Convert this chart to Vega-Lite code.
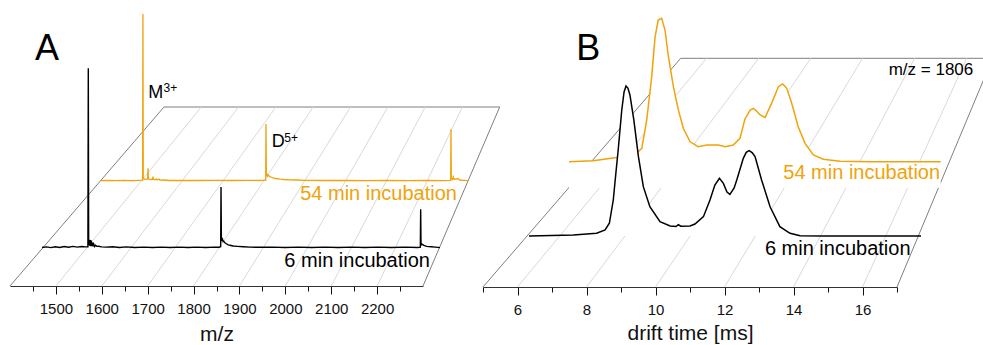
{
  "$schema": "https://vega.github.io/schema/vega-lite/v6.json",
  "width": 983,
  "height": 345,
  "autosize": {"type": "none"},
  "padding": 0,
  "background": "white",
  "config": {"view": {"stroke": null}},
  "datasets": {
    "floorA": [
      {"kind": "edge", "x0": 1400, "x1": 1735.6, "d0": 0, "d1": 1},
      {"kind": "edge", "x0": 1735.6, "x1": 2467.1, "d0": 1, "d1": 1},
      {"kind": "edge", "x0": 2300, "x1": 2467.1, "d0": 0, "d1": 1},
      {"kind": "grid", "x0": 1500, "x1": 1816.9, "d0": 0, "d1": 1},
      {"kind": "grid", "x0": 1600, "x1": 1898.2, "d0": 0, "d1": 1},
      {"kind": "grid", "x0": 1700, "x1": 1979.4, "d0": 0, "d1": 1},
      {"kind": "grid", "x0": 1800, "x1": 2060.7, "d0": 0, "d1": 1},
      {"kind": "grid", "x0": 1900, "x1": 2142.0, "d0": 0, "d1": 1},
      {"kind": "grid", "x0": 2000, "x1": 2223.3, "d0": 0, "d1": 1},
      {"kind": "grid", "x0": 2100, "x1": 2304.6, "d0": 0, "d1": 1},
      {"kind": "grid", "x0": 2200, "x1": 2385.8, "d0": 0, "d1": 1}
    ],
    "floorB": [
      {"kind": "edge", "x0": 5, "x1": 10.73, "d0": 0, "d1": 1},
      {"kind": "edge", "x0": 10.73, "x1": 19.77, "d0": 1, "d1": 1},
      {"kind": "edge", "x0": 17, "x1": 19.77, "d0": 0, "d1": 1},
      {"kind": "grid", "x0": 6, "x1": 11.48, "d0": 0, "d1": 1},
      {"kind": "grid", "x0": 8, "x1": 12.99, "d0": 0, "d1": 1},
      {"kind": "grid", "x0": 10, "x1": 14.50, "d0": 0, "d1": 1},
      {"kind": "grid", "x0": 12, "x1": 16.00, "d0": 0, "d1": 1},
      {"kind": "grid", "x0": 14, "x1": 17.51, "d0": 0, "d1": 1},
      {"kind": "grid", "x0": 16, "x1": 19.02, "d0": 0, "d1": 1}
    ],
    "specA54": [
      {"mz": 1400, "i": 0.2}, {"mz": 1420, "i": 0.4}, {"mz": 1440, "i": 0.2}, {"mz": 1460, "i": 0.4},
      {"mz": 1480, "i": 0.2}, {"mz": 1495, "i": 0.4}, {"mz": 1504.2, "i": 0.5}, {"mz": 1505, "i": 100},
      {"mz": 1505.8, "i": 1.5}, {"mz": 1510, "i": 1.0}, {"mz": 1516.5, "i": 1.2}, {"mz": 1517.5, "i": 7.6},
      {"mz": 1518.5, "i": 1.3}, {"mz": 1523, "i": 0.9}, {"mz": 1528.5, "i": 1.0}, {"mz": 1529.5, "i": 2.6},
      {"mz": 1530.5, "i": 1.0}, {"mz": 1535, "i": 0.7}, {"mz": 1538.5, "i": 1.2}, {"mz": 1540, "i": 0.6},
      {"mz": 1544.5, "i": 1.1}, {"mz": 1546, "i": 0.5}, {"mz": 1555, "i": 0.6}, {"mz": 1570, "i": 0.3},
      {"mz": 1600, "i": 0.4}, {"mz": 1640, "i": 0.3}, {"mz": 1680, "i": 0.4}, {"mz": 1720, "i": 0.3},
      {"mz": 1760, "i": 0.4}, {"mz": 1790, "i": 0.3}, {"mz": 1805.2, "i": 0.5}, {"mz": 1806, "i": 34.1},
      {"mz": 1806.8, "i": 3.0}, {"mz": 1808, "i": 4.6}, {"mz": 1810, "i": 2.8}, {"mz": 1812, "i": 3.5},
      {"mz": 1815, "i": 2.6}, {"mz": 1818, "i": 2.4}, {"mz": 1823, "i": 1.9}, {"mz": 1830, "i": 1.5},
      {"mz": 1840, "i": 1.1}, {"mz": 1850, "i": 0.9}, {"mz": 1865, "i": 0.7}, {"mz": 1880, "i": 0.6},
      {"mz": 1900, "i": 0.4}, {"mz": 1950, "i": 0.3}, {"mz": 2000, "i": 0.4}, {"mz": 2050, "i": 0.2},
      {"mz": 2100, "i": 0.4}, {"mz": 2150, "i": 0.2}, {"mz": 2200, "i": 0.3}, {"mz": 2240, "i": 0.2},
      {"mz": 2257.6, "i": 0.4}, {"mz": 2258.4, "i": 31}, {"mz": 2259.2, "i": 1.5}, {"mz": 2262, "i": 1.0},
      {"mz": 2264, "i": 2.6}, {"mz": 2266, "i": 0.9}, {"mz": 2270, "i": 1.2}, {"mz": 2276, "i": 1.4},
      {"mz": 2280, "i": 0.6}, {"mz": 2290, "i": 0.4}, {"mz": 2300, "i": 0.2}
    ],
    "specA6": [
      {"mz": 1400, "i": 0.3}, {"mz": 1410, "i": 0.6}, {"mz": 1420, "i": 0.2}, {"mz": 1430, "i": 0.7},
      {"mz": 1440, "i": 0.3}, {"mz": 1450, "i": 0.8}, {"mz": 1460, "i": 0.4}, {"mz": 1470, "i": 0.9},
      {"mz": 1480, "i": 0.5}, {"mz": 1490, "i": 0.8}, {"mz": 1498, "i": 0.6}, {"mz": 1503.8, "i": 0.7},
      {"mz": 1504.7, "i": 100}, {"mz": 1505.5, "i": 4.5}, {"mz": 1506.5, "i": 1.5}, {"mz": 1507.5, "i": 4.6},
      {"mz": 1508.5, "i": 1.2}, {"mz": 1509.5, "i": 4.4}, {"mz": 1510.5, "i": 1.0}, {"mz": 1511.5, "i": 4.1},
      {"mz": 1512.5, "i": 1.0}, {"mz": 1514, "i": 3.0}, {"mz": 1515.5, "i": 0.9}, {"mz": 1517, "i": 2.2},
      {"mz": 1519, "i": 0.8}, {"mz": 1521, "i": 1.5}, {"mz": 1524, "i": 0.9}, {"mz": 1528, "i": 1.0},
      {"mz": 1535, "i": 0.6}, {"mz": 1545, "i": 0.5}, {"mz": 1560, "i": 0.7}, {"mz": 1575, "i": 0.3},
      {"mz": 1590, "i": 0.6}, {"mz": 1610, "i": 0.3}, {"mz": 1630, "i": 0.5}, {"mz": 1650, "i": 0.3},
      {"mz": 1670, "i": 0.5}, {"mz": 1690, "i": 0.3}, {"mz": 1710, "i": 0.5}, {"mz": 1730, "i": 0.3},
      {"mz": 1750, "i": 0.5}, {"mz": 1770, "i": 0.3}, {"mz": 1790, "i": 0.5}, {"mz": 1800, "i": 0.4},
      {"mz": 1804, "i": 0.7}, {"mz": 1804.8, "i": 34}, {"mz": 1805.6, "i": 6}, {"mz": 1806.5, "i": 4.5},
      {"mz": 1808, "i": 5.0}, {"mz": 1809.5, "i": 3.6}, {"mz": 1811, "i": 3.8}, {"mz": 1813, "i": 3.0},
      {"mz": 1816, "i": 2.5}, {"mz": 1820, "i": 1.9}, {"mz": 1825, "i": 1.5}, {"mz": 1832, "i": 1.1},
      {"mz": 1842, "i": 0.9}, {"mz": 1855, "i": 0.7}, {"mz": 1870, "i": 0.5}, {"mz": 1890, "i": 0.4},
      {"mz": 1920, "i": 0.5}, {"mz": 1950, "i": 0.3}, {"mz": 1980, "i": 0.5}, {"mz": 2010, "i": 0.3},
      {"mz": 2040, "i": 0.5}, {"mz": 2070, "i": 0.3}, {"mz": 2100, "i": 0.5}, {"mz": 2130, "i": 0.3},
      {"mz": 2160, "i": 0.5}, {"mz": 2190, "i": 0.3}, {"mz": 2220, "i": 0.5}, {"mz": 2250, "i": 0.3},
      {"mz": 2255.5, "i": 0.5}, {"mz": 2256.3, "i": 21.5}, {"mz": 2257, "i": 3.0}, {"mz": 2258.5, "i": 1.8},
      {"mz": 2260.5, "i": 2.0}, {"mz": 2262.5, "i": 1.6}, {"mz": 2265, "i": 1.3}, {"mz": 2270, "i": 0.9},
      {"mz": 2280, "i": 0.7}, {"mz": 2290, "i": 0.5}, {"mz": 2300, "i": 0.2}
    ],
    "dtB54": [
      {"t": 5.00, "i": 0}, {"t": 5.78, "i": 0.7}, {"t": 6.54, "i": 2.9}, {"t": 6.90, "i": 3.7},
      {"t": 7.16, "i": 5.4}, {"t": 7.35, "i": 9.3}, {"t": 7.51, "i": 29.1}, {"t": 7.67, "i": 59.3},
      {"t": 7.78, "i": 87.2}, {"t": 7.88, "i": 98.8}, {"t": 7.99, "i": 100}, {"t": 8.10, "i": 91.8},
      {"t": 8.21, "i": 73.2}, {"t": 8.37, "i": 52.3}, {"t": 8.53, "i": 36.1}, {"t": 8.69, "i": 23.3},
      {"t": 8.91, "i": 13.9}, {"t": 9.17, "i": 10.5}, {"t": 9.45, "i": 11.6}, {"t": 9.82, "i": 11.6},
      {"t": 10.04, "i": 10.5}, {"t": 10.30, "i": 11.6}, {"t": 10.52, "i": 16.3}, {"t": 10.68, "i": 29.8},
      {"t": 10.85, "i": 36}, {"t": 10.95, "i": 37.2}, {"t": 11.05, "i": 35.5}, {"t": 11.17, "i": 32.6},
      {"t": 11.33, "i": 30.8}, {"t": 11.54, "i": 40.7}, {"t": 11.76, "i": 52.3}, {"t": 11.90, "i": 54.2},
      {"t": 12.03, "i": 51.2}, {"t": 12.19, "i": 40.7}, {"t": 12.40, "i": 24.4}, {"t": 12.62, "i": 12.8},
      {"t": 12.89, "i": 4.7}, {"t": 13.21, "i": 1.7}, {"t": 13.75, "i": 0.3}, {"t": 14.72, "i": 0},
      {"t": 17.00, "i": 0}
    ],
    "dtB6": [
      {"t": 5.00, "i": 0}, {"t": 6.36, "i": 0.7}, {"t": 7.07, "i": 1.8}, {"t": 7.33, "i": 4.0},
      {"t": 7.46, "i": 8.5}, {"t": 7.58, "i": 24}, {"t": 7.66, "i": 42}, {"t": 7.73, "i": 57.3},
      {"t": 7.84, "i": 84}, {"t": 7.91, "i": 96}, {"t": 7.97, "i": 100}, {"t": 8.03, "i": 98.5},
      {"t": 8.09, "i": 94}, {"t": 8.21, "i": 77.3}, {"t": 8.35, "i": 52.9}, {"t": 8.50, "i": 32.9},
      {"t": 8.70, "i": 19.5}, {"t": 9.01, "i": 9.5}, {"t": 9.32, "i": 6.7}, {"t": 9.50, "i": 6.3},
      {"t": 9.57, "i": 7.5}, {"t": 9.65, "i": 6.5}, {"t": 9.93, "i": 6.7}, {"t": 10.08, "i": 8},
      {"t": 10.34, "i": 12.9}, {"t": 10.54, "i": 24}, {"t": 10.69, "i": 34}, {"t": 10.83, "i": 38.5},
      {"t": 10.95, "i": 35.1}, {"t": 11.06, "i": 29.3}, {"t": 11.15, "i": 27.8}, {"t": 11.28, "i": 32},
      {"t": 11.36, "i": 37.3}, {"t": 11.56, "i": 51.8}, {"t": 11.65, "i": 55.8}, {"t": 11.74, "i": 56.9},
      {"t": 11.83, "i": 55.6}, {"t": 11.92, "i": 52.9}, {"t": 12.12, "i": 37.3}, {"t": 12.38, "i": 19.5},
      {"t": 12.68, "i": 6.2}, {"t": 12.99, "i": 1.8}, {"t": 13.30, "i": 0.2}, {"t": 14.01, "i": 0},
      {"t": 17.00, "i": 0}
    ]
  },
  "layer": [
    {
      "data": {"name": "floorA"},
      "mark": {"type": "rule", "strokeWidth": 1},
      "encoding": {
        "x": {"field": "x0", "type": "quantitative",
          "scale": {"domain": [1400, 2300], "range": [10, 423], "nice": false, "zero": false},
          "axis": {"orient": "bottom", "offset": -59,
            "values": [1450, 1500, 1550, 1600, 1650, 1700, 1750, 1800, 1850, 1900, 1950, 2000, 2050, 2100, 2150, 2200, 2250],
            "format": "d", "labelExpr": "datum.value % 100 === 0 ? datum.label : ''",
            "tickSize": {"condition": {"test": "datum.value % 100 === 0", "value": 8}, "value": 5},
            "tickColor": "#111", "domainColor": "#333", "grid": false, "labelOverlap": false, "labelFlush": false,
            "labelFont": "Liberation Sans", "labelFontSize": 15, "labelColor": "#111", "labelPadding": 7,
            "title": "m/z", "titleFont": "Liberation Sans", "titleFontSize": 21, "titleFontWeight": "normal",
            "titleColor": "#111", "titlePadding": 7}},
        "x2": {"field": "x1"},
        "y": {"field": "d0", "type": "quantitative",
          "scale": {"domain": [0, 1], "range": [286, 107], "nice": false, "zero": false}, "axis": null},
        "y2": {"field": "d1"},
        "color": {"field": "kind", "type": "nominal",
          "scale": {"domain": ["edge", "grid"], "range": ["#7f7f7f", "#d9d9d9"]}, "legend": null}
      }
    },
    {
      "data": {"name": "floorB"},
      "mark": {"type": "rule", "strokeWidth": 1},
      "encoding": {
        "x": {"field": "x0", "type": "quantitative",
          "scale": {"domain": [5, 17], "range": [483, 897], "nice": false, "zero": false},
          "axis": {"orient": "bottom", "offset": -58,
            "values": [5, 6, 7, 8, 9, 10, 11, 12, 13, 14, 15, 16, 17],
            "format": "d", "labelExpr": "datum.value % 2 === 0 ? datum.label : ''",
            "tickSize": {"condition": {"test": "datum.value % 2 === 0", "value": 8}, "value": 5},
            "tickColor": "#111", "domainColor": "#333", "grid": false, "labelOverlap": false, "labelFlush": false,
            "labelFont": "Liberation Sans", "labelFontSize": 15, "labelColor": "#111", "labelPadding": 7,
            "title": "drift time [ms]", "titleFont": "Liberation Sans", "titleFontSize": 21, "titleFontWeight": "normal",
            "titleColor": "#111", "titlePadding": 5}},
        "x2": {"field": "x1"},
        "y": {"field": "d0", "type": "quantitative",
          "scale": {"domain": [0, 1], "range": [287, 58.3], "nice": false, "zero": false}, "axis": null},
        "y2": {"field": "d1"},
        "color": {"field": "kind", "type": "nominal",
          "scale": {"domain": ["edge", "grid"], "range": ["#7f7f7f", "#d9d9d9"]}, "legend": null}
      }
    },
    {
      "data": {"name": "specA54"},
      "mark": {"type": "line", "color": "#F0A30A", "strokeWidth": 1.3},
      "encoding": {
        "x": {"field": "mz", "type": "quantitative", "scale": {"domain": [1400, 2300], "range": [100, 468], "nice": false, "zero": false}, "axis": null},
        "y": {"field": "i", "type": "quantitative", "scale": {"domain": [0, 100], "range": [181, 14], "nice": false, "zero": false}, "axis": null}
      }
    },
    {
      "data": {"name": "specA6"},
      "mark": {"type": "line", "color": "#000000", "strokeWidth": 1.4},
      "encoding": {
        "x": {"field": "mz", "type": "quantitative", "scale": {"domain": [1400, 2300], "range": [42, 440], "nice": false, "zero": false}, "axis": null},
        "y": {"field": "i", "type": "quantitative", "scale": {"domain": [0, 100], "range": [248, 68.3], "nice": false, "zero": false}, "axis": null}
      }
    },
    {
      "data": {"name": "dtB54"},
      "mark": {"type": "area", "color": "white", "opacity": 1},
      "encoding": {
        "x": {"field": "t", "type": "quantitative", "scale": {"domain": [5, 17], "range": [569, 940.7], "nice": false, "zero": false}, "axis": null},
        "y": {"field": "i", "type": "quantitative", "scale": {"domain": [0, 100], "range": [161.7, 18.3], "nice": false, "zero": false}, "axis": null},
        "y2": {"datum": -18.3}
      }
    },
    {
      "data": {"name": "dtB54"},
      "mark": {"type": "line", "color": "#F0A30A", "strokeWidth": 1.5},
      "encoding": {
        "x": {"field": "t", "type": "quantitative", "scale": {"domain": [5, 17], "range": [569, 940.7], "nice": false, "zero": false}, "axis": null},
        "y": {"field": "i", "type": "quantitative", "scale": {"domain": [0, 100], "range": [161.7, 18.3], "nice": false, "zero": false}, "axis": null}
      }
    },
    {
      "data": {"name": "dtB6"},
      "mark": {"type": "area", "color": "white", "opacity": 1},
      "encoding": {
        "x": {"field": "t", "type": "quantitative", "scale": {"domain": [5, 17], "range": [529, 921], "nice": false, "zero": false}, "axis": null},
        "y": {"field": "i", "type": "quantitative", "scale": {"domain": [0, 100], "range": [236, 86], "nice": false, "zero": false}, "axis": null},
        "y2": {"datum": 0}
      }
    },
    {
      "data": {"name": "dtB6"},
      "mark": {"type": "line", "color": "#000000", "strokeWidth": 1.5},
      "encoding": {
        "x": {"field": "t", "type": "quantitative", "scale": {"domain": [5, 17], "range": [529, 921], "nice": false, "zero": false}, "axis": null},
        "y": {"field": "i", "type": "quantitative", "scale": {"domain": [0, 100], "range": [236, 86], "nice": false, "zero": false}, "axis": null}
      }
    },
    {
      "data": {"values": [{"label": "A", "x": 1454.5, "d": 1.263}]},
      "mark": {"type": "text", "align": "left", "baseline": "alphabetic", "font": "Liberation Sans", "fontSize": 36, "color": "#000"},
      "encoding": {
        "text": {"field": "label"},
        "x": {"field": "x", "type": "quantitative", "scale": {"domain": [1400, 2300], "range": [10, 423], "nice": false, "zero": false}, "axis": null},
        "y": {"field": "d", "type": "quantitative", "scale": {"domain": [0, 1], "range": [286, 107], "nice": false, "zero": false}, "axis": null}
      }
    },
    {
      "data": {"values": [{"label": "B", "x": 7.70, "d": 0.9926}]},
      "mark": {"type": "text", "align": "left", "baseline": "alphabetic", "font": "Liberation Sans", "fontSize": 36, "color": "#000"},
      "encoding": {
        "text": {"field": "label"},
        "x": {"field": "x", "type": "quantitative", "scale": {"domain": [5, 17], "range": [483, 897], "nice": false, "zero": false}, "axis": null},
        "y": {"field": "d", "type": "quantitative", "scale": {"domain": [0, 1], "range": [287, 58.3], "nice": false, "zero": false}, "axis": null}
      }
    },
    {
      "data": {"values": [{"label": "m/z = 1806", "x": 19.21, "d": 0.927}]},
      "mark": {"type": "text", "align": "right", "baseline": "alphabetic", "font": "Liberation Sans", "fontSize": 17, "color": "#000"},
      "encoding": {
        "text": {"field": "label"},
        "x": {"field": "x", "type": "quantitative", "scale": {"domain": [5, 17], "range": [483, 897], "nice": false, "zero": false}, "axis": null},
        "y": {"field": "d", "type": "quantitative", "scale": {"domain": [0, 1], "range": [287, 58.3], "nice": false, "zero": false}, "axis": null}
      }
    },
    {
      "data": {"values": [{"label": "54 min incubation", "x": 2273, "i": -11.4}]},
      "mark": {"type": "text", "align": "right", "baseline": "alphabetic", "font": "Liberation Sans", "fontSize": 20, "color": "#F0A30A"},
      "encoding": {
        "text": {"field": "label"},
        "x": {"field": "x", "type": "quantitative", "scale": {"domain": [1400, 2300], "range": [100, 468], "nice": false, "zero": false}, "axis": null},
        "y": {"field": "i", "type": "quantitative", "scale": {"domain": [0, 100], "range": [181, 14], "nice": false, "zero": false}, "axis": null}
      }
    },
    {
      "data": {"values": [{"label": "M", "x": 1518, "i": 49.7}, {"label": "D", "x": 1819.9, "i": 20.2}]},
      "mark": {"type": "text", "align": "left", "baseline": "alphabetic", "font": "Liberation Sans", "fontSize": 18, "color": "#000"},
      "encoding": {
        "text": {"field": "label"},
        "x": {"field": "x", "type": "quantitative", "scale": {"domain": [1400, 2300], "range": [100, 468], "nice": false, "zero": false}, "axis": null},
        "y": {"field": "i", "type": "quantitative", "scale": {"domain": [0, 100], "range": [181, 14], "nice": false, "zero": false}, "axis": null}
      }
    },
    {
      "data": {"values": [{"label": "3+", "x": 1555.3, "i": 53.3}, {"label": "5+", "x": 1850.7, "i": 23.5}]},
      "mark": {"type": "text", "align": "left", "baseline": "alphabetic", "font": "Liberation Sans", "fontSize": 12, "color": "#000"},
      "encoding": {
        "text": {"field": "label"},
        "x": {"field": "x", "type": "quantitative", "scale": {"domain": [1400, 2300], "range": [100, 468], "nice": false, "zero": false}, "axis": null},
        "y": {"field": "i", "type": "quantitative", "scale": {"domain": [0, 100], "range": [181, 14], "nice": false, "zero": false}, "axis": null}
      }
    },
    {
      "data": {"values": [{"label": "6 min incubation", "x": 2277.4, "i": -10.6}]},
      "mark": {"type": "text", "align": "right", "baseline": "alphabetic", "font": "Liberation Sans", "fontSize": 20, "color": "#000"},
      "encoding": {
        "text": {"field": "label"},
        "x": {"field": "x", "type": "quantitative", "scale": {"domain": [1400, 2300], "range": [42, 440], "nice": false, "zero": false}, "axis": null},
        "y": {"field": "i", "type": "quantitative", "scale": {"domain": [0, 100], "range": [248, 68.3], "nice": false, "zero": false}, "axis": null}
      }
    },
    {
      "data": {"values": [{"label": "54 min incubation", "x": 16.98, "i": -12.4}]},
      "mark": {"type": "text", "align": "right", "baseline": "alphabetic", "font": "Liberation Sans", "fontSize": 20, "color": "#F0A30A"},
      "encoding": {
        "text": {"field": "label"},
        "x": {"field": "x", "type": "quantitative", "scale": {"domain": [5, 17], "range": [569, 940.7], "nice": false, "zero": false}, "axis": null},
        "y": {"field": "i", "type": "quantitative", "scale": {"domain": [0, 100], "range": [161.7, 18.3], "nice": false, "zero": false}, "axis": null}
      }
    },
    {
      "data": {"values": [{"label": "6 min incubation", "x": 16.68, "i": -12.7}]},
      "mark": {"type": "text", "align": "right", "baseline": "alphabetic", "font": "Liberation Sans", "fontSize": 20, "color": "#000"},
      "encoding": {
        "text": {"field": "label"},
        "x": {"field": "x", "type": "quantitative", "scale": {"domain": [5, 17], "range": [529, 921], "nice": false, "zero": false}, "axis": null},
        "y": {"field": "i", "type": "quantitative", "scale": {"domain": [0, 100], "range": [236, 86], "nice": false, "zero": false}, "axis": null}
      }
    }
  ],
  "resolve": {
    "scale": {"x": "independent", "y": "independent"},
    "axis": {"x": "independent", "y": "independent"}
  }
}
